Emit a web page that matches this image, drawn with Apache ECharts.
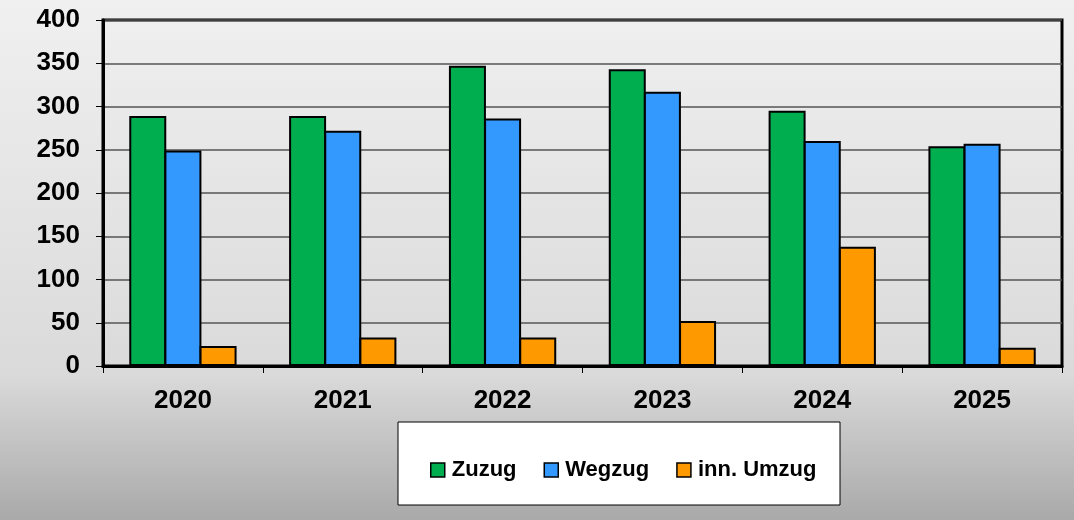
<!DOCTYPE html>
<html lang="de">
<head>
    <meta charset="UTF-8">
    <script src="https://cdn.jsdelivr.net/npm/echarts@6/dist/echarts.min.js"></script>
    <style>
        html, body { margin: 0; padding: 0; }
        #chart { width: 1074px; height: 520px; }
    </style>
</head>
<body>
<div id="chart"></div>
<script>
    var jahre = ['2020', '2021', '2022', '2023', '2024', '2025'];
    var zuzug = [289, 289, 347, 343, 295, 254];
    var wegzug = [249, 272, 286, 317, 260, 257];
    var umzug = [23, 33, 33, 52, 138, 21];
    var serienNamen = ['Zuzug', 'Wegzug', 'inn. Umzug'];
    var farben = ['#00ad4f', '#3399ff', '#ff9900'];

    var font = '"Liberation Sans", Arial, sans-serif';
    var chart = echarts.init(document.getElementById('chart'));

    function bar(name, data, color) {
        return {
            name: name,
            type: 'bar',
            data: data,
            barWidth: 37,
            barGap: '-5%',
            itemStyle: { color: color, borderColor: '#000', borderWidth: 2 }
        };
    }

    var option = {
        animation: false,
        backgroundColor: {
            type: 'linear', x: 0, y: 0, x2: 0, y2: 1,
            colorStops: [
                { offset: 0, color: '#f0f0f0' },
                { offset: 0.72, color: '#dadada' },
                { offset: 1, color: '#a9a9a9' }
            ]
        },
        textStyle: { fontFamily: font },
        grid: {
            left: 103, right: 12, top: 20, bottom: 154,
            show: true, borderColor: '#000', borderWidth: 3, backgroundColor: 'transparent'
        },
        graphic: [{
            type: 'rect',
            shape: { x: 398, y: 422, width: 442, height: 83 },
            style: { fill: '#fff', stroke: '#000', lineWidth: 1 },
            z: -1
        }],
        legend: {
            data: serienNamen,
            left: 425, top: 454,
            icon: 'rect',
            itemWidth: 14, itemHeight: 14,
            itemGap: 27,
            itemStyle: { borderColor: '#000', borderWidth: 1.5 },
            textStyle: { fontFamily: font, fontSize: 22, fontWeight: 'bold', color: '#000', padding: [0, 0, 0, 2] }
        },
        xAxis: {
            type: 'category',
            data: jahre,
            axisLine: { lineStyle: { color: '#000', width: 3 } },
            axisTick: { show: true, length: 7, lineStyle: { color: '#000', width: 1 } },
            axisLabel: { margin: 22, fontSize: 26, fontWeight: 'bold', color: '#000', fontFamily: font }
        },
        yAxis: {
            type: 'value',
            min: 0, max: 400, interval: 50,
            axisLine: { show: true, lineStyle: { color: '#000', width: 3 } },
            axisTick: { show: true, length: 7, lineStyle: { color: '#000', width: 1 } },
            axisLabel: { margin: 23, fontSize: 26, fontWeight: 'bold', color: '#000', fontFamily: font },
            splitLine: { lineStyle: { color: '#555', width: 1.5 } }
        },
        series: [
            bar(serienNamen[0], zuzug, farben[0]),
            bar(serienNamen[1], wegzug, farben[1]),
            bar(serienNamen[2], umzug, farben[2])
        ]
    };
    chart.setOption(option);
</script>
</body>
</html>
